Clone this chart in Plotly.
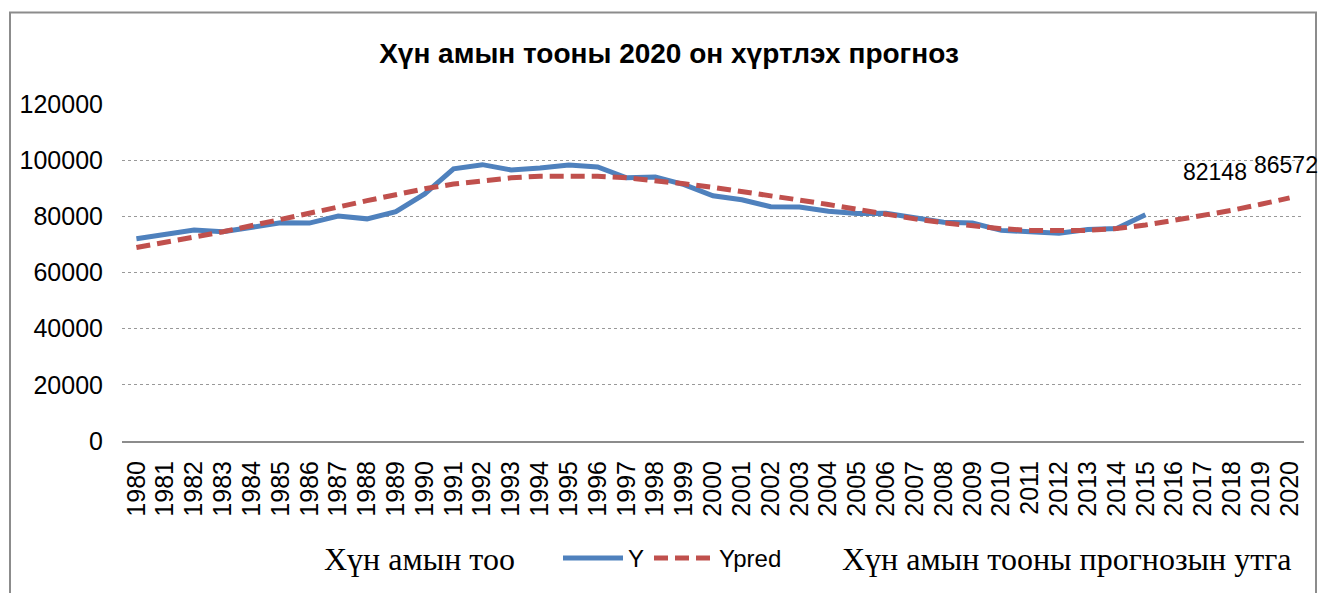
import plotly.graph_objects as go

years = list(range(1980, 2021))
years_actual = list(range(1980, 2016))

y_actual = [72000, 73600, 75100, 74500, 76300, 77700, 77600, 80100, 79100, 81700,
            88000, 96900, 98400, 96500, 97200, 98300, 97600, 93700, 94000, 91300,
            87300, 85900, 83400, 83300, 81800, 81000, 81100, 79500, 77900, 77600,
            75000, 74500, 74000, 75300, 75700, 80600]

y_pred = [68900, 70600, 72600, 74500, 76600, 78800, 81000, 83300, 85600, 87800,
          89800, 91500, 92700, 93700, 94300, 94500, 94300, 93700, 92800, 91600,
          90300, 88900, 87400, 85800, 84200, 82400, 80700, 79100, 77700, 76500,
          75600, 75000, 74800, 75000, 75700, 76900, 78600, 80200, 82148, 84300,
          86572]

label_years = [2018, 2020]
label_values = [82148, 86572]

title_text = "Хүн амын тооны 2020 он хүртлэх прогноз"
left_note = "Хүн амын тоо"
right_note = "Хүн амын тооны прогнозын утга"

SANS = "Liberation Sans, Arial, sans-serif"
SERIF = "Liberation Serif, Times New Roman, serif"

W, H = 1320, 593
L, R, T, B = 122, 16, 104, 150
pw, ph = W - L - R, H - T - B

def px(xp):
    return (xp - L) / pw

def py(yp):
    return (H - B - yp) / ph

fig = go.Figure()
fig.add_trace(go.Scatter(
    x=years_actual, y=y_actual, name="Y", mode="lines",
    line=dict(color="#4F81BD", width=5),
))
fig.add_trace(go.Scatter(
    x=years, y=y_pred, name="Ypred", mode="lines",
    line=dict(color="#C0504D", width=5, dash="14px,7px"),
))

annotations = []
shifts = [(-17, 38), (-4, 33)]
for (yr, v), (xs, ys) in zip(zip(label_years, label_values), shifts):
    annotations.append(dict(
        x=yr, y=v, xref="x", yref="y", text=str(v), showarrow=False,
        xshift=xs, yshift=ys, font=dict(family=SANS, size=23, color="#000000"),
    ))
annotations.append(dict(
    x=px(419), y=py(562), xref="paper", yref="paper", text=left_note,
    showarrow=False, xanchor="center", yanchor="middle",
    font=dict(family=SERIF, size=32, color="#000000"),
))
annotations.append(dict(
    x=px(1066), y=py(562), xref="paper", yref="paper", text=right_note,
    showarrow=False, xanchor="center", yanchor="middle",
    font=dict(family=SERIF, size=32, color="#000000"),
))

fig.update_layout(
    width=W, height=H,
    margin=dict(l=L, r=R, t=T, b=B),
    paper_bgcolor="white", plot_bgcolor="white",
    title=dict(text="<b>" + title_text + "</b>", x=669 / W, xanchor="center",
               y=1 - 53 / H, yanchor="middle",
               font=dict(family=SANS, size=28, color="#000000")),
    showlegend=True,
    legend=dict(orientation="h", x=px(558), y=py(561), xanchor="left", yanchor="middle",
                font=dict(family=SANS, size=24, color="#000000"),
                bgcolor="rgba(0,0,0,0)", itemwidth=60, tracegroupgap=0),
    annotations=annotations,
    shapes=[dict(type="rect", xref="paper", yref="paper",
                 x0=px(10), x1=px(1316), y0=py(620), y1=py(12),
                 line=dict(color="#8C8C8C", width=2), fillcolor="rgba(0,0,0,0)",
                 layer="below")],
)

fig.update_xaxes(
    type="linear", range=[1979.5, 2020.5], tickmode="array", tickvals=years,
    ticktext=[str(y) for y in years], tickangle=-90,
    tickfont=dict(family=SANS, size=25, color="#000000"),
    showgrid=False, showline=True, linecolor="#8C8C8C", linewidth=2,
    ticks="", ticklabelstandoff=8, zeroline=False,
)
fig.update_yaxes(
    range=[0, 120000], tickmode="array", tickvals=[0, 20000, 40000, 60000, 80000, 100000, 120000],
    ticktext=["0", "20000", "40000", "60000", "80000", "100000", "120000"],
    tickfont=dict(family=SANS, size=25, color="#000000"),
    showgrid=True, gridcolor="#999999", gridwidth=1, griddash="dot",
    showline=False, zeroline=False, ticks="", ticklabelstandoff=18,
)

fig.write_html("out.html", config={"displayModeBar": False},
               post_script="document.body.style.margin='0';document.body.style.padding='0';")
